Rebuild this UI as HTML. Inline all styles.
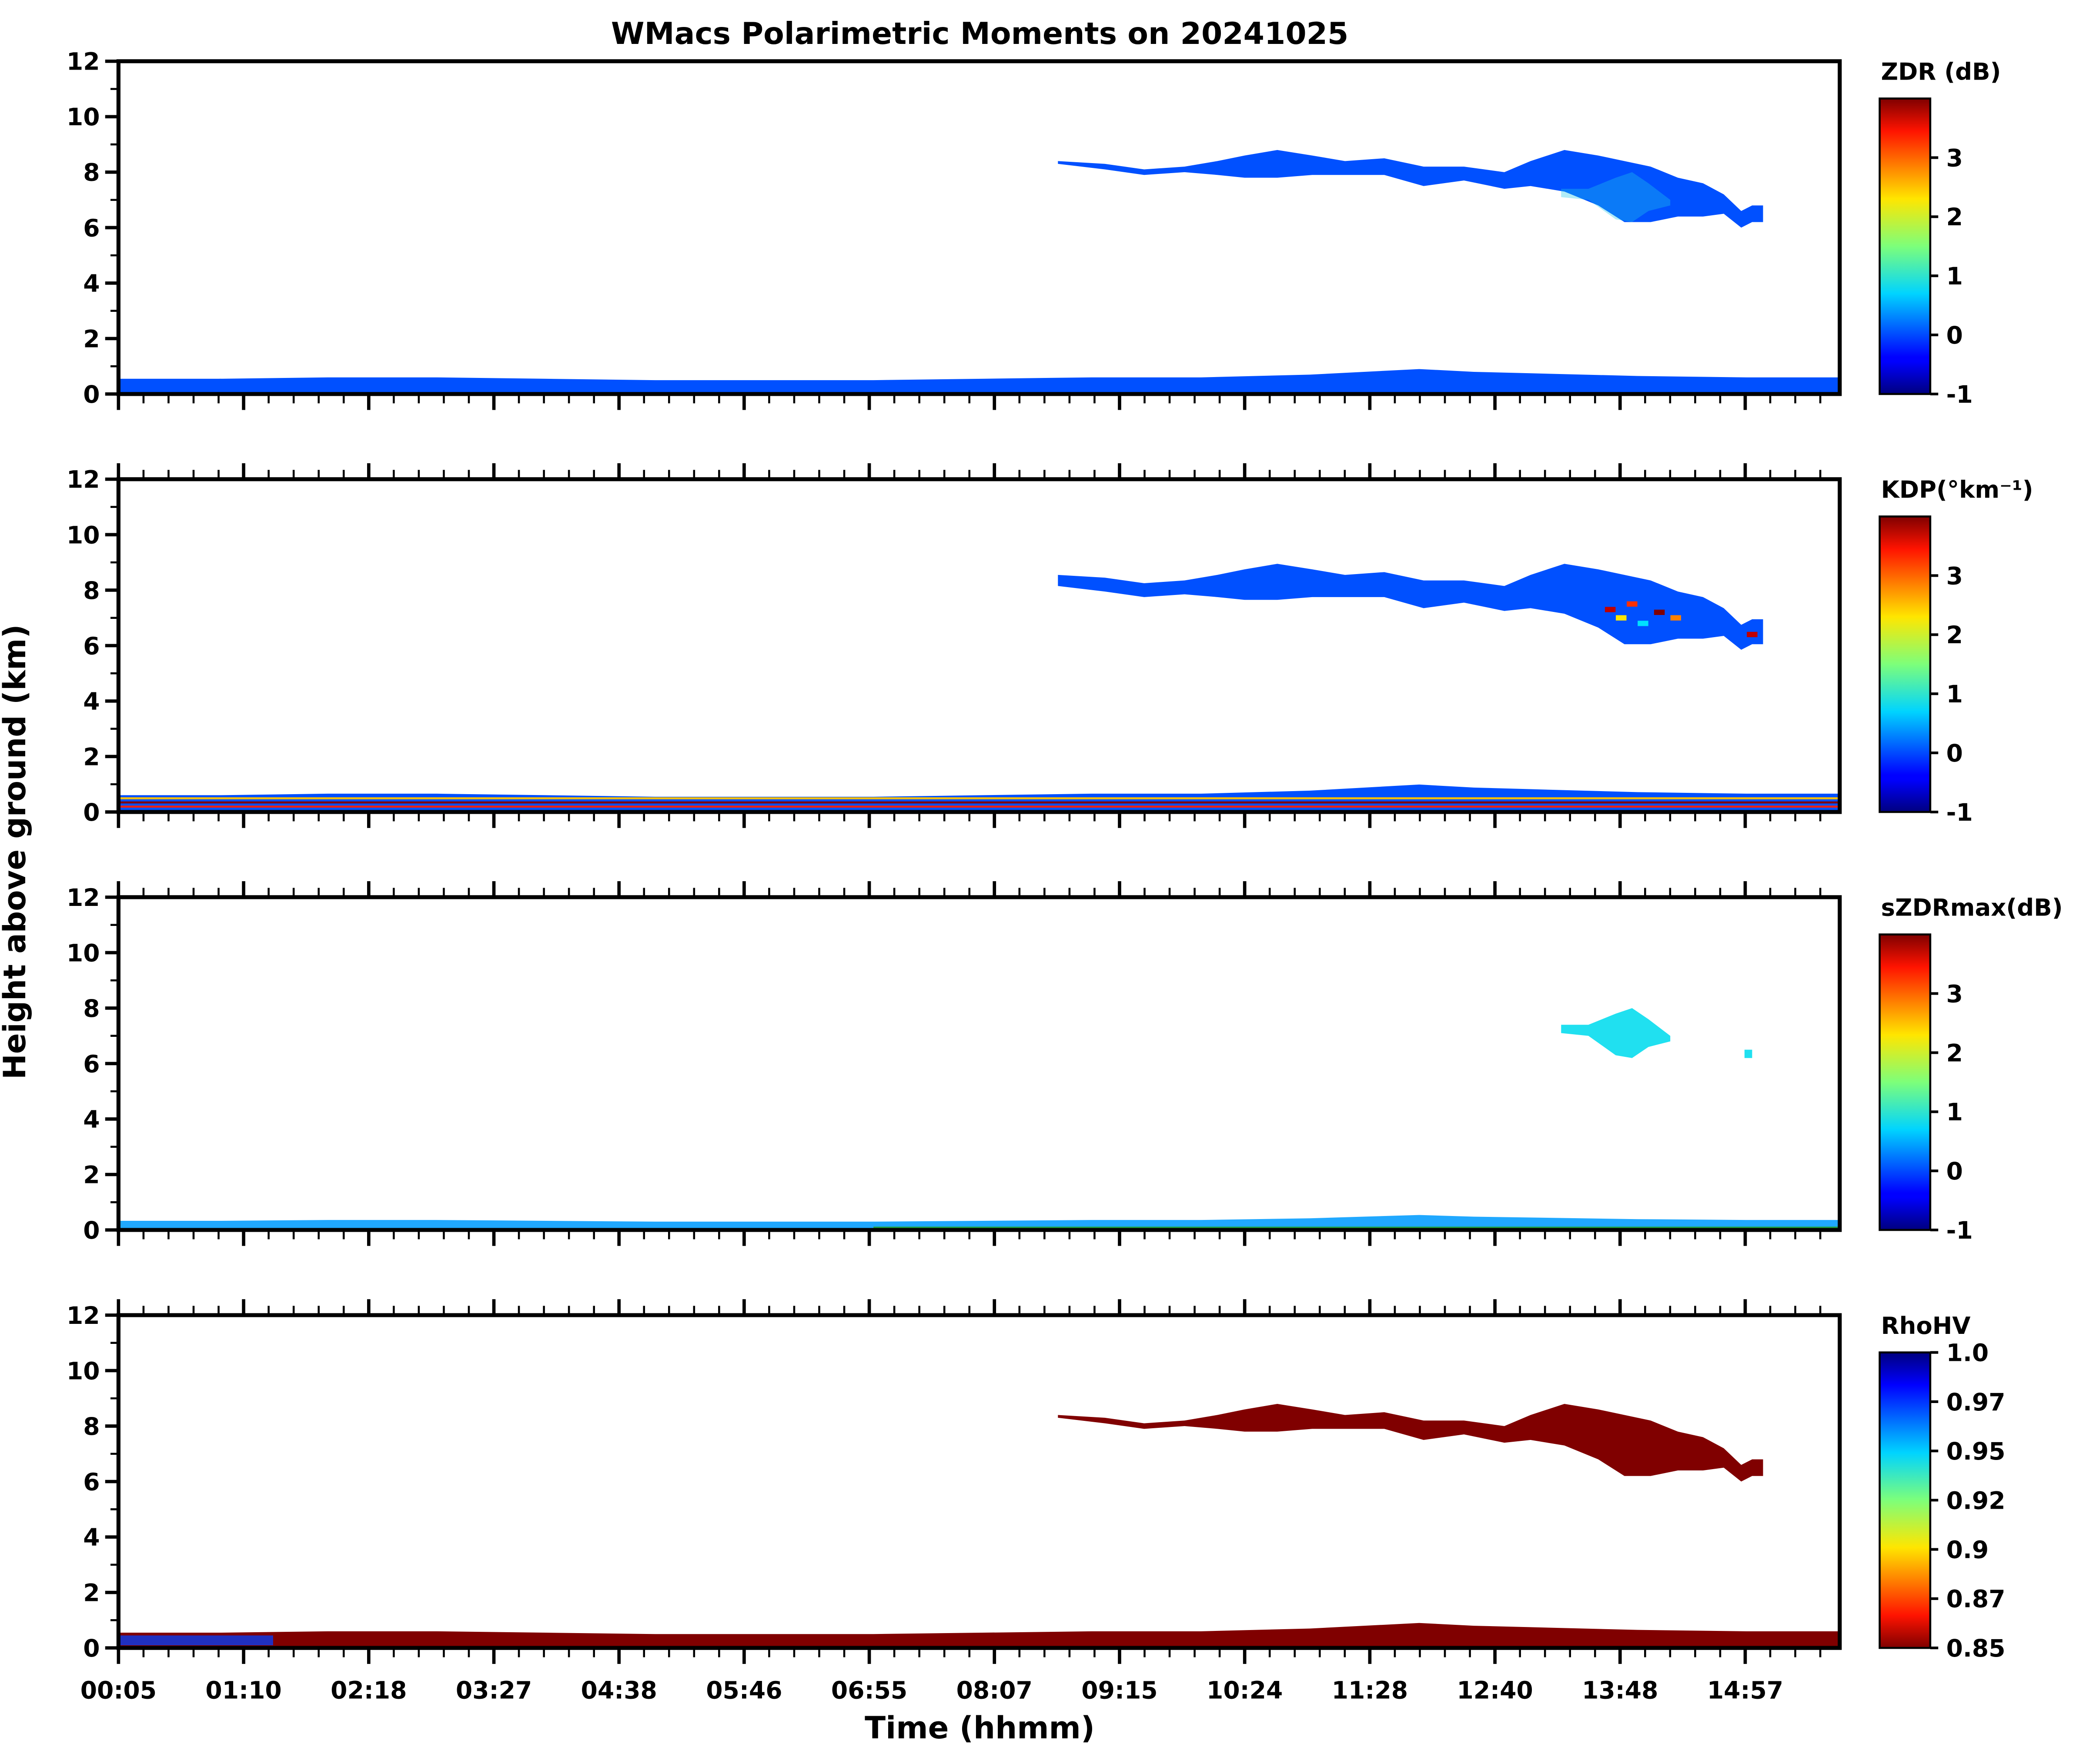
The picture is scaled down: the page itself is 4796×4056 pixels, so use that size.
<!DOCTYPE html>
<html><head><meta charset="utf-8"><style>
html,body{margin:0;padding:0;background:#fff}
svg{display:block}
text{font-family:"DejaVu Sans","Liberation Sans",sans-serif;font-weight:bold;fill:#000}
</style></head><body>
<svg id="chart" width="4796" height="4056" viewBox="0 0 1567 1325.2" preserveAspectRatio="none" xmlns="http://www.w3.org/2000/svg">
<defs>
<linearGradient id="jet" x1="0" y1="1" x2="0" y2="0">
<stop offset="0" stop-color="#00007f"/><stop offset="0.11" stop-color="#0000ff"/><stop offset="0.125" stop-color="#0000ff"/>
<stop offset="0.34" stop-color="#00d4ff"/><stop offset="0.5" stop-color="#7dff7a"/><stop offset="0.66" stop-color="#ffe600"/>
<stop offset="0.89" stop-color="#ff1300"/><stop offset="1" stop-color="#7f0000"/></linearGradient>
<linearGradient id="jetr" x1="0" y1="0" x2="0" y2="1">
<stop offset="0" stop-color="#00007f"/><stop offset="0.11" stop-color="#0000ff"/>
<stop offset="0.34" stop-color="#00d4ff"/><stop offset="0.5" stop-color="#7dff7a"/><stop offset="0.66" stop-color="#ffe600"/>
<stop offset="0.89" stop-color="#ff1300"/><stop offset="1" stop-color="#7f0000"/></linearGradient>
</defs>
</svg>
<script>
// ---- data ----
const cloudTime = [8.69,9.12,9.48,9.85,10.15,10.40,10.70,11.02,11.32,11.68,12.04,12.41,12.78,13.02,13.33,13.64,13.88,14.12,14.37,14.60,14.79,14.95,15.05,15.15];
const cloudBase = [8.3,8.1,7.9,8.0,7.9,7.8,7.8,7.9,7.9,7.9,7.5,7.7,7.4,7.5,7.3,6.8,6.2,6.2,6.4,6.4,6.5,6.0,6.2,6.2];
const cloudTop  = [8.4,8.3,8.1,8.2,8.4,8.6,8.8,8.6,8.4,8.5,8.2,8.2,8.0,8.4,8.8,8.6,8.4,8.2,7.8,7.6,7.2,6.6,6.8,6.8];
const lowTime = [0.08,1,2,3,4,5,6,7,8,9,10,11,12,12.5,13,14,15,15.85];
const lowTop  = [0.55,0.55,0.6,0.6,0.55,0.5,0.5,0.5,0.55,0.6,0.6,0.7,0.9,0.8,0.75,0.65,0.6,0.6];
const szdrTime = [13.3,13.55,13.8,13.95,14.1,14.3,14.98,15.05];
const szdrBase = [7.1,7.0,6.3,6.2,6.6,6.8,6.2,6.2];
const szdrTop  = [7.4,7.4,7.8,8.0,7.6,7.0,6.5,6.5];
const kdpSpotT = [13.75,13.85,13.95,14.05,14.2,14.35,15.05];
const kdpSpotH = [7.3,7.0,7.5,6.8,7.2,7.0,6.4];
const kdpSpotC = ["#c00000","#ffe600","#ff3000","#00e0ff","#7f0000","#ff8000","#c00000"];
const xTickLabels = ["00:05","01:10","02:18","03:27","04:38","05:46","06:55","08:07","09:15","10:24","11:28","12:40","13:48","14:57"];
const yTicks = [0,2,4,6,8,10,12];
const cbTicks = [-1,0,1,2,3];
const rhoTicks = ["1.0","0.97","0.95","0.92","0.9","0.87","0.85"];
const panelNames = ["zdr","kdp","szdrmax","rhohv"];
const cbTitles = ["ZDR (dB)","KDP(°km⁻¹)","sZDRmax(dB)","RhoHV"];

// ---- layout ----
const svg=document.getElementById('chart');
const NS='http://www.w3.org/2000/svg';
const X0=89,X1=1382,T0=5/60,T1=T0+(X1-X0)/1.3666/60;
const tops=[46,360,674,988],PH=250;
function xs(t){return X0+(t-T0)/(T1-T0)*(X1-X0);}
function ys(h,p){return tops[p]+PH-h/12*PH;}
function el(tag,attrs,parent){const e=document.createElementNS(NS,tag);for(const k in attrs)e.setAttribute(k,attrs[k]);(parent||svg).appendChild(e);return e;}
function txt(s,attrs,parent){const e=el('text',attrs,parent);e.textContent=s;return e;}

const t0=txt("WMacs Polarimetric Moments on 20241025",{x:736,y:33,'font-size':22.7,'text-anchor':'middle'});

const yl=txt("Height above ground (km)",{x:19,y:640,'font-size':23,'text-anchor':'middle',transform:'rotate(-90 19 640)'});

const xl=txt("Time (hhmm)",{x:736,y:1306,'font-size':23,'text-anchor':'middle'});


const cloudColor=["#0050ff","#0050ff",null,"#800000"];
const lowColor=["#0050ff","#0050ff","#20a8ff","#800000"];

for(let p=0;p<4;p++){
  const g=el('g',{});
  
  
  let pts=lowTime.map((t,i)=>xs(t)+','+ys(p==2?lowTop[i]*0.6:lowTop[i]*(p==1?1.1:1),p));
  pts.push(xs(lowTime[lowTime.length-1])+','+ys(0,p));pts.push(xs(lowTime[0])+','+ys(0,p));
  const lw=el('polygon',{points:pts.join(' '),fill:lowColor[p]},g);
  
  if(p==1){
    [0.15,0.3,0.45].forEach((h,i)=>{const r=el('rect',{x:X0,y:ys(h+0.08,p),width:X1-X0,height:1.5,fill:["#ff2000","#7f0000","#ffc000"][i]},g);
      });
  }
  if(p==3){const r=el('rect',{x:X0,y:ys(0.45,p),width:xs(1.5)-X0,height:ys(0,p)-ys(0.45,p)-2,fill:"#2030c0"},g);
    }
  if(p==2){const r=el('rect',{x:xs(7),y:ys(0.12,p),width:X1-xs(7),height:2,fill:"#20a040"},g);
    }
  if(cloudColor[p]){
    const top=cloudTime.map((t,i)=>xs(t)+','+ys(cloudTop[i]+(p==1?0.15:0),p));
    const bot=cloudTime.map((t,i)=>xs(t)+','+ys(cloudBase[i]-(p==1?0.15:0),p)).reverse();
    const c=el('polygon',{points:top.concat(bot).join(' '),fill:cloudColor[p]},g);
    
  }
  if(p==0||p==2){
    const top=szdrTime.slice(0,6).map((t,i)=>xs(t)+','+ys(szdrTop[i],p));
    const bot=szdrTime.slice(0,6).map((t,i)=>xs(t)+','+ys(szdrBase[i],p)).reverse();
    const c=el('polygon',{points:top.concat(bot).join(' '),fill:p==2?"#20e0f0":"#20c8e8",opacity:p==2?1:0.35},g);
    
    if(p==2){const c2=el('rect',{x:xs(szdrTime[6]),y:ys(szdrTop[6],p),width:xs(szdrTime[7])-xs(szdrTime[6]),height:ys(szdrBase[6],p)-ys(szdrTop[6],p),fill:"#20e0f0"},g);
      }
  }
  if(p==1){kdpSpotT.forEach((t,i)=>{const r=el('rect',{x:xs(t)-4,y:ys(kdpSpotH[i],p)-2,width:8,height:4,fill:kdpSpotC[i]},g);
    });}
  const f=el('rect',{x:X0,y:tops[p],width:X1-X0,height:PH,fill:'none',stroke:'#000','stroke-width':3},g);
  
  for(let h=0;h<=12;h++){el('line',{x1:X0,x2:X0-(h%2?6:10),y1:ys(h,p),y2:ys(h,p),stroke:'#000','stroke-width':h%2?1.5:2.5},g);}
  yTicks.forEach(h=>{const t=txt(String(h),{x:X0-14,y:ys(h,p)+6.5,'font-size':18,'text-anchor':'end'},g);
    });
  const step=94;
  for(let k=0;k*step/5+X0<=X1+0.5;k++){
    const x=X0+k*step/5,maj=k%5==0,len=maj?12:7;
    el('line',{x1:x,x2:x,y1:tops[p]+PH,y2:tops[p]+PH+len,stroke:'#000','stroke-width':maj?2.5:1.5},g);
    if(p>0)el('line',{x1:x,x2:x,y1:tops[p],y2:tops[p]-len,stroke:'#000','stroke-width':maj?2.5:1.5},g);
  }
  if(p==3){xTickLabels.forEach((s,i)=>{const t=txt(s,{x:X0+i*step,y:1276,'font-size':18,'text-anchor':'middle'},g);
    });}
  const cb=el('g',{},g);
  const cy0=tops[p]+28,cy1=tops[p]+PH;
  el('rect',{x:1412,y:cy0,width:38,height:cy1-cy0,fill:p==3?'url(#jetr)':'url(#jet)',stroke:'#000','stroke-width':1.5},cb);
  const ct=txt(cbTitles[p],{x:1413,y:tops[p]+14,'font-size':17.8},cb);
  
  if(p<3){cbTicks.forEach(v=>{const y=cy1-(v+1)/5*(cy1-cy0);
      el('line',{x1:1450,x2:1456,y1:y,y2:y,stroke:'#000','stroke-width':2},cb);
      const t=txt(String(v),{x:1462,y:y+6.5,'font-size':18},cb);});}
  else{rhoTicks.forEach((s,i)=>{const y=cy0+i*(cy1-cy0)/6;
      el('line',{x1:1450,x2:1456,y1:y,y2:y,stroke:'#000','stroke-width':2},cb);
      const t=txt(s,{x:1462,y:y+6.5,'font-size':18},cb);});}
}
</script>
</body></html>
